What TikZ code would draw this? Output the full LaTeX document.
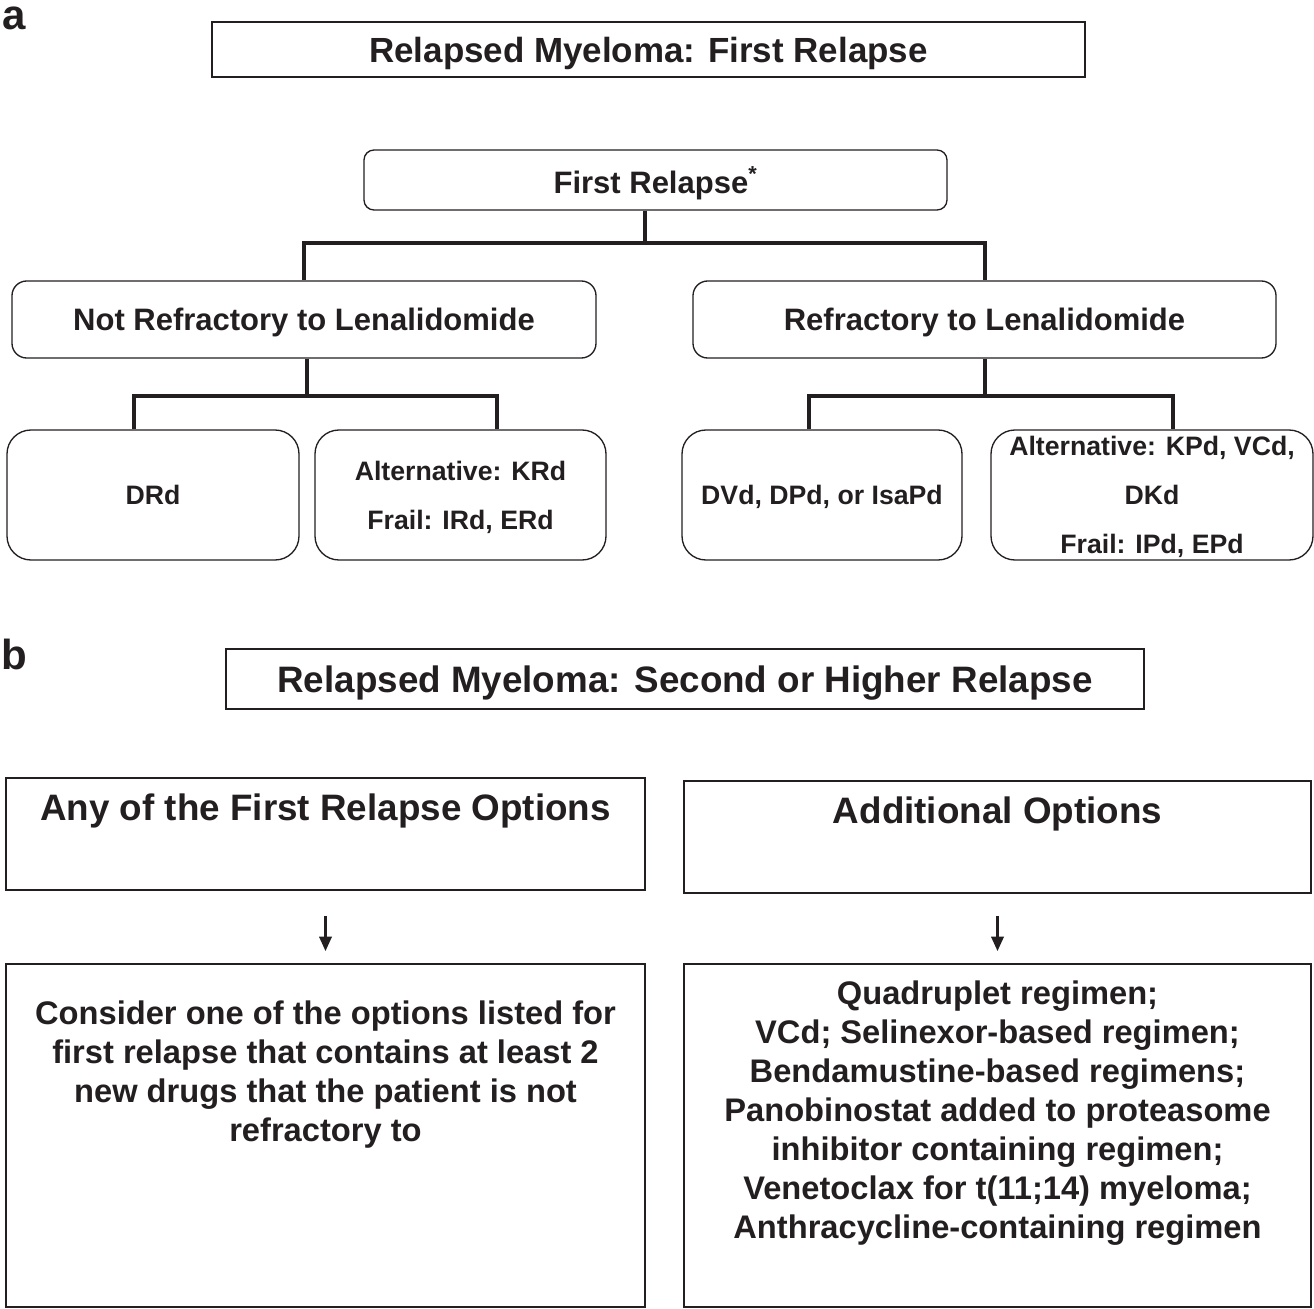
\documentclass[tikz,border=0pt]{standalone}
\usepackage{fontspec}
\setmainfont{Liberation Sans}
\usetikzlibrary{arrows.meta}
\definecolor{ink}{RGB}{35,31,32}

\begin{document}
\begin{tikzpicture}[x=0.75pt,y=0.75pt,yscale=-1,xscale=1,
  every node/.style={text=ink,inner sep=0pt},
  panel/.style={font=\fontsize{31.5}{36}\selectfont\bfseries},
  titlebox/.style={draw=ink,line width=1pt,align=center,text depth=0pt},
  headbox/.style={draw=ink,line width=1pt,rounded corners=7.5pt,text depth=0pt,font=\fontsize{23.25}{28}\selectfont\bfseries},
  midbox/.style={draw=ink,line width=1pt,rounded corners=11pt,minimum height=57.75pt,text depth=0pt,font=\fontsize{23.25}{28}\selectfont\bfseries},
  leafbox/.style={draw=ink,line width=1pt,rounded corners=18pt,minimum height=97.5pt,align=center,text depth=0pt,font=\fontsize{20}{36.75}\selectfont\bfseries},
  bigbox/.style={draw=ink,line width=1pt},
  bodytext/.style={align=center,font=\fontsize{24.5}{29.25}\selectfont\bfseries},
  conn/.style={draw=ink,line width=3pt},
  flow/.style={draw=ink,line width=2.5pt,-{Triangle[length=11pt,width=9pt]}}
]
\useasboundingbox (0,0) rectangle (1314,1309);

% panel letters
\node[panel, anchor=base west] (lbl-a) at (2,30) {a};
\node[panel, anchor=base west] (lbl-b) at (1,669) {b};

% panel a: first relapse
\node[titlebox, minimum width=654.75pt, minimum height=41.25pt, font=\fontsize{26.2}{31}\selectfont\bfseries] (title-a) at (648.5,49.5) {Relapsed Myeloma: First Relapse};
\node[headbox, minimum width=437.25pt, minimum height=45pt] (first) at (655.5,180) {First Relapse\textsuperscript{*}};

\node[midbox, minimum width=438pt] (notref) at (304,319.5) {Not Refractory to Lenalidomide};
\node[midbox, minimum width=437.25pt] (ref) at (984.5,319.5) {Refractory to Lenalidomide};

\node[leafbox, minimum width=219pt] (drd) at (153,495) {DRd};
\node[leafbox, minimum width=218.25pt] (krd) at (460.5,495) {Alternative: KRd\\Frail: IRd, ERd};
\node[leafbox, minimum width=210pt] (dvd) at (822,495) {DVd, DPd, or IsaPd};
\node[leafbox, minimum width=241.5pt] (kpd) at (1152,495) {Alternative: KPd, VCd,\\DKd\\Frail: IPd, EPd};

% tree lines
\draw[conn] ([xshift=-8.25pt]first.south) -- ++(0,32) -| (notref.north);
\draw[conn] ([xshift=-8.25pt]first.south) ++(0,32) -| (ref.north);
\draw[conn] ([xshift=2.25pt]notref.south) -- ++(0,37) -| ([xshift=-14.25pt]drd.north);
\draw[conn] ([xshift=2.25pt]notref.south) ++(0,37) -| ([xshift=27.4pt]krd.north);
\draw[conn] (ref.south) -- ++(0,37) -| ([xshift=-9.75pt]dvd.north);
\draw[conn] (ref.south) ++(0,37) -| ([xshift=15.75pt]kpd.north);

% panel b: second or higher relapse
\node[titlebox, minimum width=688.5pt, minimum height=45pt, font=\fontsize{27.6}{33}\selectfont\bfseries] (title-b) at (685,679) {Relapsed Myeloma: Second or Higher Relapse};

\node[bigbox, minimum width=479.25pt, minimum height=84pt] (anyof) at (325.5,834) {};
\node[anchor=north, font=\fontsize{27.6}{33}\selectfont\bfseries] (anyof-t) at (325.5,794) {Any of the First Relapse Options};
\node[bigbox, minimum width=470.25pt, minimum height=84pt] (addopt) at (997.5,837) {};
\node[anchor=north, font=\fontsize{27.6}{33}\selectfont\bfseries] (addopt-t) at (997.5,797) {Additional Options};

\node[bigbox, minimum width=479.25pt, minimum height=257.25pt] (cons) at (325.5,1135.5) {};
\node[bodytext, anchor=north] (cons-t) at (325.5,1001) {Consider one of the options listed for\\first relapse that contains at least 2\\new drugs that the patient is not\\refractory to};
\node[bigbox, minimum width=470.25pt, minimum height=257.25pt] (quad) at (997.5,1135.5) {};
\node[bodytext, anchor=north] (quad-t) at (997.5,981) {Quadruplet regimen;\\VCd; Selinexor-based regimen;\\Bendamustine-based regimens;\\Panobinostat added to proteasome\\inhibitor containing regimen;\\Venetoclax for t(11;14) myeloma;\\Anthracycline-containing regimen};

% arrows
\draw[flow, shorten <=18.75pt, shorten >=9pt] (anyof.south) -- (cons.north);
\draw[flow, shorten <=16.5pt, shorten >=9pt] (addopt.south) -- (quad.north);

\end{tikzpicture}
\end{document}
